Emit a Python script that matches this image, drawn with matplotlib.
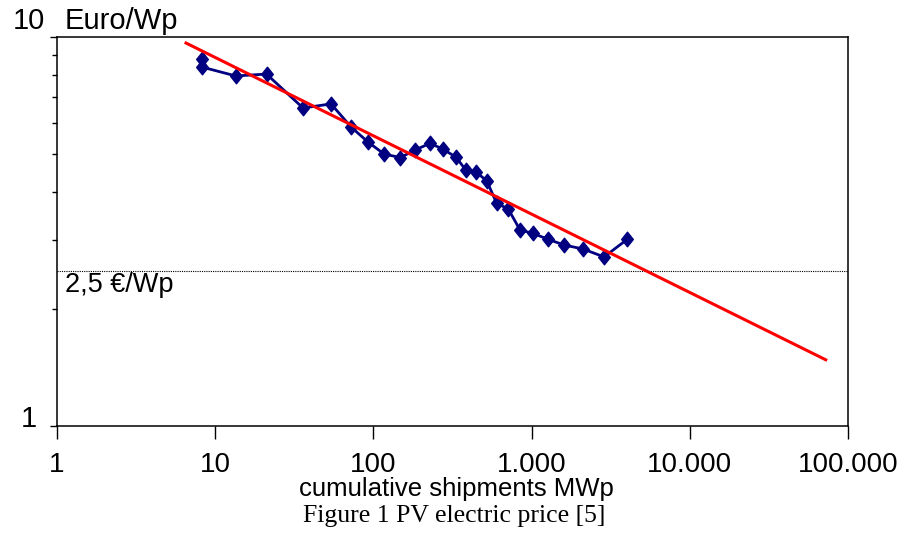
import matplotlib.pyplot as plt
from matplotlib.path import Path
from matplotlib.ticker import FixedLocator, NullFormatter, NullLocator

# cumulative shipments (MWp) and module price (Euro/Wp)
shipments = [8.25, 8.25, 13.5, 21.1, 35.9, 54.0, 72.2, 92.5, 117, 148, 183, 228, 275,
             333, 385, 445, 520, 601, 713, 845, 1016, 1270, 1603, 2123, 2869, 4027]
price = [8.78, 8.37, 7.94, 8.03, 6.57, 6.73, 5.87, 5.37, 5.00, 4.90, 5.12, 5.33, 5.15,
         4.91, 4.54, 4.50, 4.27, 3.74, 3.61, 3.19, 3.13, 3.02, 2.92, 2.85, 2.72, 3.02]

# experience curve (straight line in log-log)
trend_x = [6.54, 72300]
trend_y = [9.65, 1.48]

target_price = 2.5

x_ticks = [1, 10, 100, 1000, 10000, 100000]
x_labels = ['1', '10', '100', '1.000', '10.000', '100.000']
y_minor = [2, 3, 4, 5, 6, 7, 8, 9]

plt.rcParams['font.family'] = ['Liberation Sans', 'DejaVu Sans']

fig = plt.figure(figsize=(9.01, 5.4), dpi=100)
ax = fig.add_axes([57 / 901, 1 - 426 / 540, (848 - 57) / 901, (426 - 37) / 540])

diamond = Path([(0, 1), (0.8, 0), (0, -1), (-0.8, 0), (0, 1)],
               [Path.MOVETO, Path.LINETO, Path.LINETO, Path.LINETO, Path.CLOSEPOLY])

ax.plot(shipments, price, color='#000080', lw=2.0, marker=diamond, markersize=10.5,
        markeredgecolor='#000080', markerfacecolor='#000080', zorder=3)
ax.plot(trend_x, trend_y, color='#ff0000', lw=2.2, zorder=4)
ax.axhline(target_price, color='black', lw=0.8, linestyle=(0, (1, 1)), zorder=2)

ax.set_xscale('log')
ax.set_yscale('log')
ax.set_xlim(1, 100000)
ax.set_ylim(1, 10)

ax.xaxis.set_major_locator(FixedLocator(x_ticks))
ax.set_xticklabels(x_labels)
ax.xaxis.set_minor_locator(NullLocator())
ax.tick_params(axis='x', which='major', direction='out', length=9.4, width=1.0,
               pad=9, labelsize=20)

ax.yaxis.set_major_locator(FixedLocator([1, 10]))
ax.yaxis.set_minor_locator(FixedLocator(y_minor))
ax.yaxis.set_major_formatter(NullFormatter())
ax.yaxis.set_minor_formatter(NullFormatter())
ax.tick_params(axis='y', which='major', direction='out', length=5, width=1.0)
ax.tick_params(axis='y', which='minor', direction='out', length=3.6, width=1.0)

for side in ['left', 'bottom', 'top', 'right']:
    ax.spines[side].set_linewidth(1.1)

# y labels sit apart from the ticks
ax.annotate('10', xy=(0, 10), xycoords=('axes fraction', 'data'), xytext=(-28, 8),
            textcoords='offset pixels', ha='center', va='baseline', fontsize=21)
ax.annotate('1', xy=(0, 1), xycoords=('axes fraction', 'data'), xytext=(-28, -1),
            textcoords='offset pixels', ha='center', va='baseline', fontsize=21)
ax.annotate('Euro/Wp', xy=(0, 10), xycoords=('axes fraction', 'data'), xytext=(8, 8),
            textcoords='offset pixels', ha='left', va='baseline', fontsize=21,
            annotation_clip=False)
ax.annotate('2,5 €/Wp', xy=(0, target_price), xycoords=('axes fraction', 'data'),
            xytext=(8, -21), textcoords='offset pixels', ha='left', va='baseline',
            fontsize=19.5)

fig.text(456 / 901, 1 - 496 / 540, 'cumulative shipments MWp', ha='center',
         va='baseline', fontsize=18.5)
fig.text(454 / 901, 1 - 522 / 540, 'Figure 1 PV electric price [5]', ha='center',
         va='baseline', fontsize=18.5, family=['Liberation Serif', 'DejaVu Serif'])

fig.savefig('out.png', dpi=100)
